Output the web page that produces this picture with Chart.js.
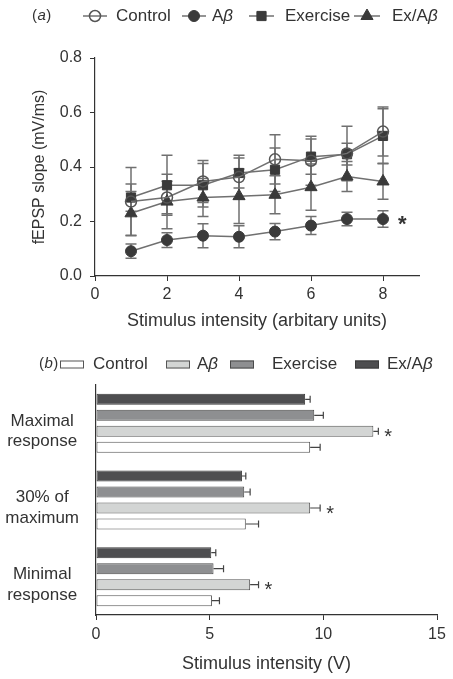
<!DOCTYPE html>
<html>
<head>
<meta charset="utf-8">
<script src="https://cdn.jsdelivr.net/npm/chart.js@4.4.1/dist/chart.umd.min.js"></script>
<style>
  html, body { margin: 0; padding: 0; background: #fff; }
  #wrap { position: relative; width: 453px; height: 679px; }
  #lineChart { position: absolute; left: 0; top: 0; }
  #barChart { position: absolute; left: 0; top: 332px; }
</style>
</head>
<body>
<div id="wrap">
  <canvas id="lineChart" width="453" height="332"></canvas>
  <canvas id="barChart" width="453" height="347"></canvas>
</div>
<script>
// (a) input/output curve
const intensity = [1, 2, 3, 4, 5, 6, 7, 8];
const controlSlope = [0.273, 0.288, 0.347, 0.363, 0.428, 0.423, 0.45, 0.53];
const controlSlopeErr = [0.125, 0.06, 0.077, 0.08, 0.09, 0.09, 0.1, 0.09];
const abetaSlope = [0.091, 0.132, 0.148, 0.144, 0.163, 0.185, 0.209, 0.209];
const abetaSlopeErr = [0.026, 0.027, 0.044, 0.04, 0.03, 0.033, 0.025, 0.03];
const exerciseSlope = [0.288, 0.333, 0.333, 0.378, 0.39, 0.438, 0.447, 0.514];
const exerciseSlopeErr = [0.05, 0.11, 0.08, 0.055, 0.08, 0.065, 0.04, 0.1];
const exAbetaSlope = [0.23, 0.273, 0.288, 0.293, 0.298, 0.326, 0.365, 0.347];
const exAbetaSlopeErr = [0.08, 0.1, 0.07, 0.1, 0.07, 0.085, 0.055, 0.065];
const abetaSlopeSig = [false, false, false, false, false, false, false, true];

// (b) stimulus intensity needed for each response level
const responseLevels = [['Maximal', 'response'], ['30% of', 'maximum'], ['Minimal', 'response']];
const controlV = [9.42, 6.59, 5.1];
const controlVErr = [0.44, 0.56, 0.33];
const abetaV = [12.2, 9.42, 6.78];
const abetaVErr = [0.22, 0.44, 0.37];
const exerciseV = [9.6, 6.52, 5.17];
const exerciseVErr = [0.4, 0.26, 0.44];
const exAbetaV = [9.2, 6.42, 5.07];
const exAbetaVErr = [0.22, 0.17, 0.2];
const abetaVSig = [true, true, true];

const FONT = '"Liberation Sans", Arial, Helvetica, sans-serif';
const INK = '#333';
Chart.defaults.font.family = FONT;
Chart.defaults.color = INK;

// text with an italic beta
function drawLabel(ctx, text, x, y, size) {
    text.split(/(β)/).forEach(part => {
        if (!part) return;
        ctx.font = (part === 'β' ? 'italic ' : '') + size + 'px ' + FONT;
        ctx.fillText(part, x, y);
        x += ctx.measureText(part).width;
    });
}

// "(a)" / "(b)" panel tag, letter in italics
function drawTag(ctx, letter, x, y) {
    [['(', ''], [letter, 'italic '], [')', '']].forEach(([s, style]) => {
        ctx.font = style + '15px ' + FONT;
        ctx.fillText(s, x, y);
        x += ctx.measureText(s).width + 0.5;
    });
}

function drawMarker(ctx, style, r, x, y) {
    ctx.beginPath();
    if (style === 'circle') {
        ctx.arc(x, y, r, 0, Math.PI * 2);
    } else if (style === 'rect') {
        const h = r * Math.SQRT1_2;
        ctx.rect(x - h, y - h, h * 2, h * 2);
    } else {
        ctx.moveTo(x, y - r);
        ctx.lineTo(x + r * Math.sin(Math.PI / 3), y + r / 2);
        ctx.lineTo(x - r * Math.sin(Math.PI / 3), y + r / 2);
        ctx.closePath();
    }
    ctx.fill();
    ctx.stroke();
}

function drawStar(ctx, x, cy, size, weight) {
    ctx.save();
    ctx.font = weight + ' ' + size + 'px ' + FONT;
    ctx.fillStyle = INK;
    ctx.textAlign = 'left';
    ctx.textBaseline = 'alphabetic';
    ctx.fillText('*', x, cy + size * 0.58);
    ctx.restore();
}

const axisGrid = { drawOnChartArea: false, drawTicks: true, tickLength: 5, color: INK, lineWidth: 1 };
const axisBorder = { color: INK, width: 1.2 };

// ---------- panel (a) ----------
const lineErrorBars = {
    id: 'lineErrorBars',
    beforeDatasetsDraw(chart) {
        const { ctx } = chart;
        const y = chart.scales.y;
        ctx.save();
        ctx.strokeStyle = '#707070';
        ctx.lineWidth = 1.5;
        chart.data.datasets.forEach((ds, i) => {
            chart.getDatasetMeta(i).data.forEach((pt, j) => {
                const v = ds.data[j].y, e = ds.errors[j];
                const top = y.getPixelForValue(v + e);
                const bot = y.getPixelForValue(v - e);
                ctx.beginPath();
                ctx.moveTo(pt.x, top); ctx.lineTo(pt.x, bot);
                ctx.moveTo(pt.x - 5.5, top); ctx.lineTo(pt.x + 5.5, top);
                ctx.moveTo(pt.x - 5.5, bot); ctx.lineTo(pt.x + 5.5, bot);
                ctx.stroke();
            });
        });
        ctx.restore();
    },
    afterDatasetsDraw(chart) {
        const meta = chart.getDatasetMeta(1);
        abetaSlopeSig.forEach((sig, j) => {
            if (sig) drawStar(chart.ctx, meta.data[j].x + 15, meta.data[j].y - 1, 22, 'bold');
        });
    }
};

const legendA = {
    id: 'legendA',
    afterDraw(chart) {
        const ctx = chart.ctx;
        const y = 16;
        const slots = [[83, 107, 116], [182, 206, 212], [249, 274, 285], [354, 380, 392]];
        ctx.save();
        ctx.textBaseline = 'middle';
        ctx.fillStyle = INK;
        drawTag(ctx, 'a', 32, y);
        chart.data.datasets.forEach((ds, i) => {
            const [x1, x2, tx] = slots[i];
            ctx.strokeStyle = ds.borderColor;
            ctx.lineWidth = ds.borderWidth;
            ctx.beginPath(); ctx.moveTo(x1, y); ctx.lineTo(x2, y); ctx.stroke();
            ctx.fillStyle = ds.pointBackgroundColor;
            ctx.strokeStyle = ds.pointBorderColor;
            ctx.lineWidth = ds.pointBorderWidth;
            drawMarker(ctx, ds.pointStyle, ds.pointRadius, (x1 + x2) / 2, y);
            ctx.fillStyle = INK;
            drawLabel(ctx, ds.label, tx, y, 17);
        });
        ctx.restore();
    }
};

function series(values) {
    return intensity.map((s, i) => ({ x: s, y: values[i] }));
}

const lineChart = new Chart(document.getElementById('lineChart').getContext('2d'), {
    type: 'line',
    data: {
        datasets: [{
            label: 'Control',
            data: series(controlSlope),
            errors: controlSlopeErr,
            borderColor: '#707070', borderWidth: 1.5,
            pointStyle: 'circle', pointRadius: 5.5,
            pointBackgroundColor: 'rgba(255,255,255,0)', pointBorderColor: '#555', pointBorderWidth: 1.5
        }, {
            label: 'Aβ',
            data: series(abetaSlope),
            errors: abetaSlopeErr,
            borderColor: '#707070', borderWidth: 1.5,
            pointStyle: 'circle', pointRadius: 5.5,
            pointBackgroundColor: '#3a3a3a', pointBorderColor: '#3a3a3a', pointBorderWidth: 1
        }, {
            label: 'Exercise',
            data: series(exerciseSlope),
            errors: exerciseSlopeErr,
            borderColor: '#707070', borderWidth: 1.5,
            pointStyle: 'rect', pointRadius: 6.5,
            pointBackgroundColor: '#3a3a3a', pointBorderColor: '#3a3a3a', pointBorderWidth: 1
        }, {
            label: 'Ex/Aβ',
            data: series(exAbetaSlope),
            errors: exAbetaSlopeErr,
            borderColor: '#707070', borderWidth: 1.5,
            pointStyle: 'triangle', pointRadius: 7,
            pointBackgroundColor: '#3a3a3a', pointBorderColor: '#3a3a3a', pointBorderWidth: 1
        }]
    },
    options: {
        responsive: false,
        animation: false,
        devicePixelRatio: 1,
        layout: { padding: { top: 58, right: 34, bottom: 0, left: 0 } },
        plugins: { legend: { display: false }, tooltip: { enabled: false } },
        scales: {
            x: {
                type: 'linear', min: 0, max: 9,
                afterFit: s => { s.height = 56; },
                afterBuildTicks: s => { s.ticks = s.ticks.filter(t => t.value % 2 === 0); },
                ticks: { stepSize: 2, padding: 4, font: { size: 16 }, color: INK },
                grid: axisGrid, border: axisBorder,
                title: { display: true, text: 'Stimulus intensity (arbitary units)', font: { size: 18 }, color: INK, padding: { top: 0, bottom: 0 } }
            },
            y: {
                min: 0, max: 0.8,
                afterFit: s => { s.width = 95; },
                ticks: { stepSize: 0.2, padding: 8, font: { size: 16 }, color: INK, callback: v => v.toFixed(1) },
                grid: axisGrid, border: axisBorder,
                title: { display: true, text: 'fEPSP slope (mV/ms)', font: { size: 16 }, color: INK, padding: { top: 30, bottom: 0 } }
            }
        }
    },
    plugins: [lineErrorBars, legendA]
});

// ---------- panel (b) ----------
const barErrorBars = {
    id: 'barErrorBars',
    afterDatasetsDraw(chart) {
        const { ctx } = chart;
        const x = chart.scales.x;
        ctx.save();
        ctx.strokeStyle = '#444';
        ctx.lineWidth = 1.2;
        chart.data.datasets.forEach((ds, i) => {
            chart.getDatasetMeta(i).data.forEach((bar, j) => {
                const end = x.getPixelForValue(ds.data[j] + ds.errors[j]);
                ctx.beginPath();
                ctx.moveTo(bar.x, bar.y); ctx.lineTo(end, bar.y);
                ctx.moveTo(end, bar.y - 3.5); ctx.lineTo(end, bar.y + 3.5);
                ctx.stroke();
                if (ds.sig && ds.sig[j]) drawStar(ctx, end + 6, bar.y, 20, 'normal');
            });
        });
        ctx.restore();
    }
};

const legendB = {
    id: 'legendB',
    afterDraw(chart) {
        const ctx = chart.ctx;
        const y = 32;
        // legend order: Control, Aβ, Exercise, Ex/Aβ
        const slots = [[60, 93], [166, 197], [230, 272], [355, 387]];
        const items = chart.data.datasets.slice().reverse();
        ctx.save();
        ctx.textBaseline = 'middle';
        ctx.fillStyle = INK;
        drawTag(ctx, 'b', 39, y);
        items.forEach((ds, i) => {
            const [bx, tx] = slots[i];
            ctx.fillStyle = ds.backgroundColor;
            ctx.strokeStyle = ds.borderColor;
            ctx.lineWidth = 1;
            ctx.fillRect(bx, y - 3.5, 24, 8);
            ctx.strokeRect(bx + 0.5, y - 3, 23, 7);
            ctx.fillStyle = INK;
            drawLabel(ctx, ds.label, tx, y, 17);
        });
        ctx.restore();
    }
};

const barChart = new Chart(document.getElementById('barChart').getContext('2d'), {
    type: 'bar',
    data: {
        labels: responseLevels,
        datasets: [{
            label: 'Ex/Aβ', data: exAbetaV, errors: exAbetaVErr,
            backgroundColor: '#4e4e50', borderColor: '#3a3a3a'
        }, {
            label: 'Exercise', data: exerciseV, errors: exerciseVErr,
            backgroundColor: '#8e8f91', borderColor: '#4a4a4a'
        }, {
            label: 'Aβ', data: abetaV, errors: abetaVErr, sig: abetaVSig,
            backgroundColor: '#d3d5d4', borderColor: '#555'
        }, {
            label: 'Control', data: controlV, errors: controlVErr,
            backgroundColor: '#ffffff', borderColor: '#555'
        }]
    },
    options: {
        indexAxis: 'y',
        responsive: false,
        animation: false,
        devicePixelRatio: 1,
        layout: { padding: { top: 53, right: 16, bottom: 0, left: 0 } },
        datasets: { bar: { categoryPercentage: 0.835, barPercentage: 0.69, borderWidth: 1, borderSkipped: false } },
        plugins: { legend: { display: false }, tooltip: { enabled: false } },
        scales: {
            x: {
                min: 0, max: 15,
                afterFit: s => { s.height = 64; },
                ticks: { stepSize: 5, padding: 5, font: { size: 16 }, color: INK },
                grid: axisGrid, border: axisBorder,
                title: { display: true, text: 'Stimulus intensity (V)', font: { size: 18 }, color: INK, padding: { top: 0, bottom: 4 } }
            },
            y: {
                afterFit: s => { s.width = 96; },
                ticks: { crossAlign: 'center', padding: 17, labelOffset: 8, font: { size: 17 }, color: INK },
                grid: { drawOnChartArea: false, drawTicks: false },
                border: axisBorder
            }
        }
    },
    plugins: [barErrorBars, legendB]
});
</script>
</body>
</html>
